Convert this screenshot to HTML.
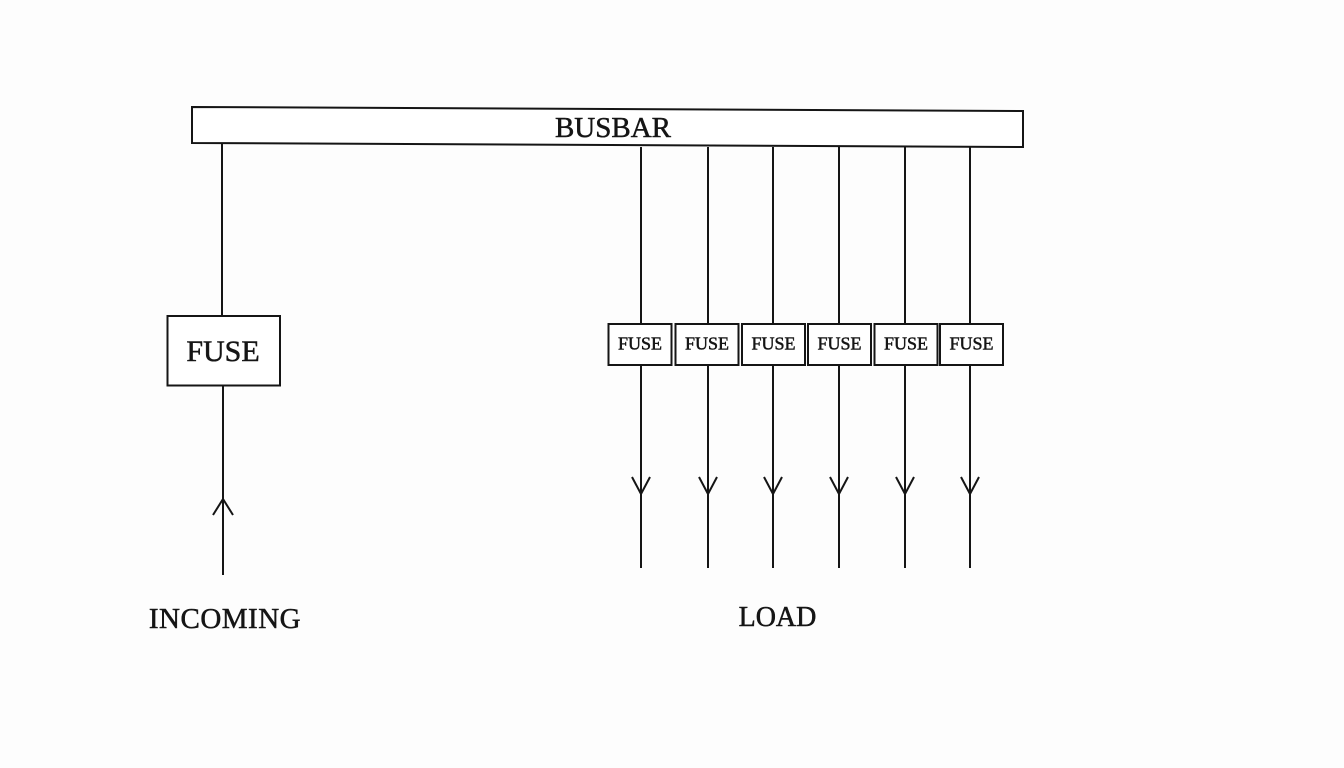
<!DOCTYPE html>
<html>
<head>
<meta charset="utf-8">
<style>
html,body{margin:0;padding:0;background:#fdfdfd;}
svg{display:block;}
text{font-family:"Liberation Serif",serif;fill:#151515;stroke:#151515;stroke-width:0.5;}
</style>
</head>
<body>
<svg width="1344" height="768" viewBox="0 0 1344 768" xmlns="http://www.w3.org/2000/svg">
<rect x="0" y="0" width="1344" height="768" fill="#fdfdfd"/>
<g stroke="#151515" stroke-width="2" fill="none">
  <!-- busbar -->
  <polygon points="192,107 1023,111 1023,147 192,143" fill="#ffffff"/>
  <!-- incoming -->
  <line x1="222" y1="143" x2="222" y2="316"/>
  <rect x="167.5" y="316" width="112.5" height="69.5" fill="#ffffff"/>
  <line x1="223" y1="386" x2="223" y2="575"/>
  <polyline points="213,515 223,499 233,515"/>
  <!-- outgoing -->
  <line x1="641" y1="147" x2="641" y2="568"/>
  <line x1="708" y1="147" x2="708" y2="568"/>
  <line x1="773" y1="147" x2="773" y2="568"/>
  <line x1="839" y1="147" x2="839" y2="568"/>
  <line x1="905" y1="147" x2="905" y2="568"/>
  <line x1="970" y1="147" x2="970" y2="568"/>
  <rect x="608.5" y="324" width="63" height="41" fill="#ffffff"/>
  <rect x="675.5" y="324" width="63" height="41" fill="#ffffff"/>
  <rect x="742" y="324" width="63" height="41" fill="#ffffff"/>
  <rect x="808" y="324" width="63" height="41" fill="#ffffff"/>
  <rect x="874.5" y="324" width="63" height="41" fill="#ffffff"/>
  <rect x="940" y="324" width="63" height="41" fill="#ffffff"/>
  <polyline points="632,477 641,494 650,477"/>
  <polyline points="699,477 708,494 717,477"/>
  <polyline points="764,477 773,494 782,477"/>
  <polyline points="830,477 839,494 848,477"/>
  <polyline points="896,477 905,494 914,477"/>
  <polyline points="961,477 970,494 979,477"/>
</g>
<text x="613" y="137" font-size="29" text-anchor="middle">BUSBAR</text>
<text x="223" y="361" font-size="30" text-anchor="middle">FUSE</text>
<g font-size="18" text-anchor="middle" style="stroke-width:0.4">
  <text x="640" y="349.5">FUSE</text>
  <text x="707" y="349.5">FUSE</text>
  <text x="773.5" y="349.5">FUSE</text>
  <text x="839.5" y="349.5">FUSE</text>
  <text x="906" y="349.5">FUSE</text>
  <text x="971.5" y="349.5">FUSE</text>
</g>
<text x="225" y="628" font-size="29" text-anchor="middle" letter-spacing="0.5">INCOMING</text>
<text x="777.5" y="626" font-size="28" text-anchor="middle">LOAD</text>
</svg>
</body>
</html>
